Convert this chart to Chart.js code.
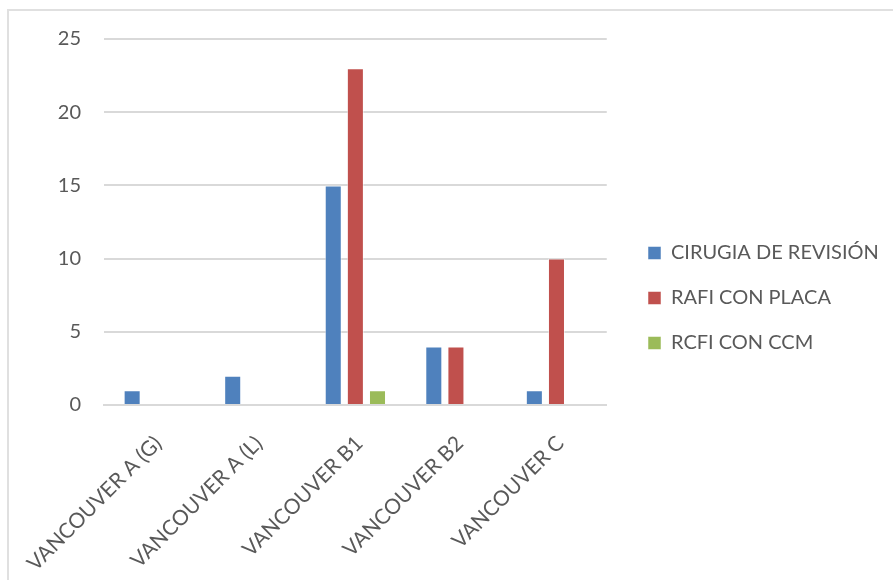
<!DOCTYPE html>
<html>
<head>
<meta charset="utf-8">
<script src="https://cdn.jsdelivr.net/npm/chart.js@4/dist/chart.umd.min.js"></script>
<style>
  html, body { margin: 0; padding: 0; background: #fff; }
  #wrap { position: relative; width: 893px; height: 580px; overflow: hidden; }
  #frame {
    position: absolute; left: 7px; top: 9px; width: 1000px; height: 1000px;
    border: 2px solid #e0e0e0; pointer-events: none;
  }
</style>
</head>
<body>
<div id="wrap">
  <canvas id="chart" width="893" height="580"></canvas>
  <div id="frame"></div>
</div>
<script>
var categories = ['VANCOUVER A (G)', 'VANCOUVER A (L)', 'VANCOUVER B1', 'VANCOUVER B2', 'VANCOUVER C'];
var seriesNames = ['CIRUGIA DE REVISIÓN', 'RAFI CON PLACA', 'RCFI CON CCM'];
var revision = [1, 2, 15, 4, 1];
var rafiPlaca = [null, null, 23, 4, 10];
var rcfiCcm = [null, null, 1, null, null];
var yTicks = [0, 5, 10, 15, 20, 25];

var colors = ['#4F81BD', '#C0504D', '#9BBB59'];
var textColor = '#595959';
var gridColor = '#d9d9d9';
var fontFamily = 'Lato, "Open Sans", sans-serif';

// where the legend column should sit (box left edge, middle item centre)
var LEGEND_X = 648;
var LEGEND_MID = 298;

var legendShift = {
  id: 'legendShift',
  afterLayout: function (chart) {
    var lg = chart.legend;
    if (!lg) return;
    var pad = lg.options.labels.padding;
    var dx = LEGEND_X - (lg.left + pad);
    var dy = LEGEND_MID - (lg.top + lg.bottom) / 2;
    lg.left += dx;
    lg.right = chart.width;
    lg.width = lg.right - lg.left;
    lg.top += dy; lg.bottom += dy;
  }
};

function makeSet(label, data, color) {
  return {
    label: label,
    data: data,
    backgroundColor: color,
    borderColor: 'rgba(255,255,255,0.5)',
    borderWidth: 1,
    categoryPercentage: 0.66,
    barPercentage: 0.77
  };
}

var ctx = document.getElementById('chart').getContext('2d');
var chart = new Chart(ctx, {
  type: 'bar',
  data: {
    labels: categories,
    datasets: [
      makeSet(seriesNames[0], revision, colors[0]),
      makeSet(seriesNames[1], rafiPlaca, colors[1]),
      makeSet(seriesNames[2], rcfiCcm, colors[2])
    ]
  },
  options: {
    responsive: false,
    animation: false,
    layout: { padding: { left: 0, top: 39, right: 84, bottom: 0 } },
    plugins: {
      tooltip: { enabled: false },
      legend: {
        position: 'right',
        labels: {
          boxWidth: 13,
          boxHeight: 13,
          padding: 25,
          color: textColor,
          font: { family: fontFamily, size: 20 }
        }
      }
    },
    scales: {
      x: {
        grid: { display: false, drawTicks: false },
        border: { display: true, color: gridColor, width: 2 },
        ticks: {
          color: textColor,
          font: { family: fontFamily, size: 21 },
          minRotation: 45,
          maxRotation: 45,
          padding: 26,
          labelOffset: 4,
          autoSkip: false
        },
        // rotated labels may hang past the plot edges; don't let them squeeze it
        afterFit: function (s) {
          s.height = 175;
          s.paddingLeft = 0;
          s.paddingRight = 0;
        }
      },
      y: {
        min: 0,
        max: 25,
        afterBuildTicks: function (s) {
          s.ticks = yTicks.map(function (v) { return { value: v }; });
        },
        grid: { color: gridColor, lineWidth: 2, drawTicks: false },
        border: { display: false },
        ticks: {
          color: textColor,
          font: { family: fontFamily, size: 20 },
          padding: 23
        },
        afterFit: function (s) { s.width = 104; }
      }
    }
  },
  plugins: [legendShift]
});
</script>
</body>
</html>
